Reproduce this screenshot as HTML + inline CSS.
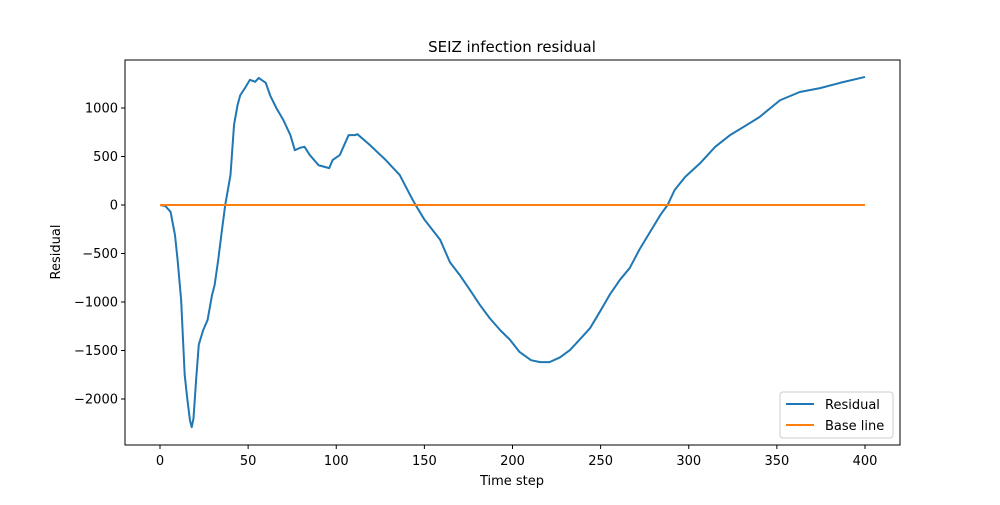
<!DOCTYPE html>
<html><head><meta charset="utf-8"><style>
body{margin:0;background:#fff;font-family:"Liberation Sans","DejaVu Sans",sans-serif}
svg text{font-family:"DejaVu Sans","Liberation Sans",sans-serif;font-size:13px;fill:#000}
</style></head><body>
<svg id="chart" width="1000" height="500">
<rect width="1000" height="500" fill="#fff"/>
<text x="512" y="52" text-anchor="middle" style="font-size:15px">SEIZ infection residual</text>
<g id="plot"></g>
<rect x="125" y="60" width="775" height="385" fill="none" stroke="#000" stroke-width="1"/>
<text x="512" y="485" text-anchor="middle">Time step</text>
<text transform="translate(60,252) rotate(-90)" text-anchor="middle">Residual</text>
<g>
<rect x="780" y="392" width="113" height="46" rx="3" fill="#fff" stroke="#ccc"/>
<line x1="786" y1="404" x2="814" y2="404" stroke="#1f77b4" stroke-width="2"/>
<text x="825" y="409">Residual</text>
<line x1="786" y1="425" x2="814" y2="425" stroke="#ff7f0e" stroke-width="2"/>
<text x="825" y="430">Base line</text>
</g>
</svg>
<script>
const xTicks=[0,50,100,150,200,250,300,350,400];
const yTicks=[-2000,-1500,-1000,-500,0,500,1000];
const steps=[0,3,6,8.5,10,12,14,15.5,17,18,19,20.5,22,24.5,27,29.5,31,33,35,37,40,42,44,45.5,48,51,54,56,60,62.5,66,70,74,76.5,79.5,82,85,90,96,98,102,107,110.6,112,119,128,136,142,145,150,159,164.5,170,176,181.5,187,193,198.6,204,210.5,215.6,221,227,232.6,238,244,249.6,255,261,266.5,272,278,284,288,292,298,306.4,315,323.4,332,340,351.8,363,374.5,386,400];
const residual=[0,-10,-70,-310,-570,-980,-1750,-2000,-2220,-2290,-2200,-1800,-1440,-1290,-1185,-930,-825,-570,-280,0,310,825,1030,1130,1200,1290,1270,1310,1260,1130,1000,875,720,565,590,600,515,410,380,465,515,720,720,730,620,465,310,100,0,-150,-360,-590,-720,-880,-1030,-1165,-1290,-1390,-1515,-1600,-1620,-1620,-1570,-1495,-1390,-1270,-1100,-930,-770,-650,-460,-280,-100,0,155,290,430,600,720,815,905,1080,1165,1205,1260,1320];
const baseline=[0,0];
const baseSteps=[0,400];
const X=v=>160+v*705/400;
const Y=v=>205-v*0.097;
const ns="http://www.w3.org/2000/svg";
const g=document.getElementById('plot');
function mk(t,a){const e=document.createElementNS(ns,t);for(const k in a)e.setAttribute(k,a[k]);g.appendChild(e);return e;}
xTicks.forEach(v=>{
 const l=mk('line',{x1:X(v),x2:X(v),y1:445,y2:449,stroke:'#000'});
 
 
 const t=mk('text',{x:X(v),y:465,'text-anchor':'middle'});t.textContent=v;
 
 
});
yTicks.forEach(v=>{
 const l=mk('line',{x1:121,x2:125,y1:Y(v),y2:Y(v),stroke:'#000'});
 
 
 const t=mk('text',{x:118,y:Y(v)+4.5,'text-anchor':'end'});t.textContent=v<0?'\u2212'+(-v):v;
 
 
});
const p1=mk('polyline',{points:steps.map((s,i)=>X(s)+','+Y(residual[i])).join(' '),fill:'none',stroke:'#1f77b4','stroke-width':2,'stroke-linejoin':'round'});


const p2=mk('polyline',{points:baseSteps.map((s,i)=>X(s)+','+Y(baseline[i])).join(' '),fill:'none',stroke:'#ff7f0e','stroke-width':2});


</script>
</body></html>
